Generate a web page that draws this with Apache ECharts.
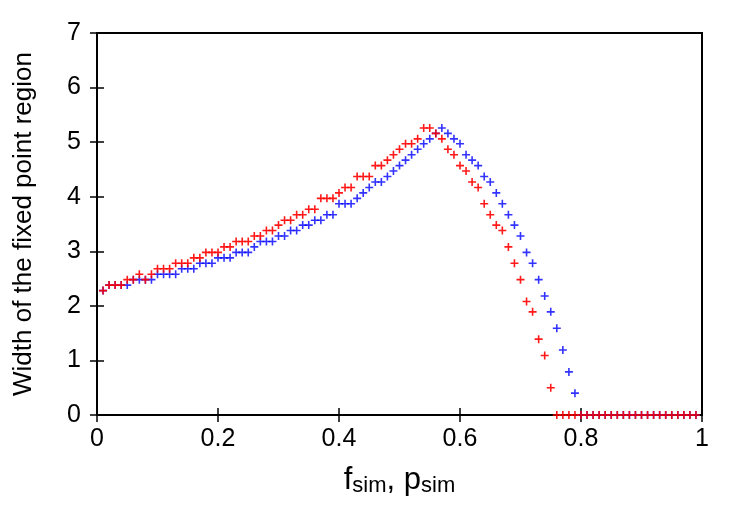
<!DOCTYPE html>
<html>
<head>
<meta charset="utf-8">
<script src="https://cdn.jsdelivr.net/npm/echarts@6/dist/echarts.min.js"></script>
<style>
html,body{margin:0;padding:0;background:#fff;}
#chart{width:750px;height:525px;}
</style>
</head>
<body>
<div id="chart"></div>
<script>
const xValues = [0.01,0.02,0.03,0.04,0.05,0.06,0.07,0.08,0.09,0.10,
0.11,0.12,0.13,0.14,0.15,0.16,0.17,0.18,0.19,0.20,
0.21,0.22,0.23,0.24,0.25,0.26,0.27,0.28,0.29,0.30,
0.31,0.32,0.33,0.34,0.35,0.36,0.37,0.38,0.39,0.40,
0.41,0.42,0.43,0.44,0.45,0.46,0.47,0.48,0.49,0.50,
0.51,0.52,0.53,0.54,0.55,0.56,0.57,0.58,0.59,0.60,
0.61,0.62,0.63,0.64,0.65,0.66,0.67,0.68,0.69,0.70,
0.71,0.72,0.73,0.74,0.75,0.76,0.77,0.78,0.79,0.80,
0.81,0.82,0.83,0.84,0.85,0.86,0.87,0.88,0.89,0.90,
0.91,0.92,0.93,0.94,0.95,0.96,0.97,0.98,0.99];

const redValues = [2.28,2.38,2.38,2.38,2.48,2.48,2.58,2.48,2.58,2.68,
2.68,2.68,2.78,2.78,2.78,2.88,2.88,2.98,2.98,2.98,
3.08,3.08,3.18,3.18,3.18,3.28,3.28,3.38,3.38,3.48,
3.57,3.57,3.67,3.67,3.77,3.77,3.97,3.97,3.97,4.07,
4.17,4.17,4.37,4.37,4.37,4.57,4.57,4.67,4.77,4.87,
4.97,4.97,5.06,5.26,5.26,5.16,5.06,4.87,4.77,4.57,
4.47,4.27,4.17,3.87,3.67,3.48,3.38,3.08,2.78,2.48,
2.08,1.89,1.39,1.09,0.50,0,0,0,0,0,
0,0,0,0,0,0,0,0,0,0,
0,0,0,0,0,0,0,0,0];

const blueValues = [2.28,2.38,2.38,2.38,2.38,2.48,2.48,2.48,2.48,2.58,
2.58,2.58,2.58,2.68,2.68,2.68,2.78,2.78,2.78,2.88,
2.88,2.88,2.98,2.98,2.98,3.08,3.18,3.18,3.18,3.28,
3.28,3.38,3.38,3.48,3.48,3.57,3.57,3.67,3.67,3.87,
3.87,3.87,3.97,4.07,4.17,4.27,4.27,4.37,4.47,4.57,
4.67,4.77,4.87,4.97,5.06,5.16,5.26,5.16,5.06,4.97,
4.77,4.67,4.57,4.37,4.27,4.07,3.87,3.67,3.48,3.28,
2.98,2.78,2.48,2.18,1.89,1.59,1.19,0.79,0.40,0,
0,0,0,0,0,0,0,0,0,0,
0,0,0,0,0,0,0,0,0];

const xTicks = [0, 0.2, 0.4, 0.6, 0.8, 1];
const yTicks = [0, 1, 2, 3, 4, 5, 6, 7];

const plusPath = 'path://M4,0h2v4h4v2h-4v4h-2v-4h-4v-2h4z';
const font = '"Liberation Sans", Arial, Helvetica, sans-serif';

const chart = echarts.init(document.getElementById('chart'), null, {renderer: 'canvas'});

function pairs(ys) { return xValues.map((x, i) => [x, ys[i]]); }

const tickStyle = {show: true, inside: true, length: 7, lineStyle: {color: '#000', width: 1.5}};

chart.setOption({
  animation: false,
  backgroundColor: '#fff',
  grid: {left: 97, right: 48, top: 33, bottom: 110, show: true, borderColor: '#000', borderWidth: 2, backgroundColor: 'transparent'},
  xAxis: [
    {
      type: 'value', min: xTicks[0], max: xTicks[xTicks.length - 1], interval: 0.2, position: 'bottom',
      axisLine: {show: false}, splitLine: {show: false},
      axisTick: tickStyle,
      axisLabel: {fontSize: 25, color: '#000', fontFamily: font, margin: 12},
      name: '{m|f}{s|sim}{m|, p}{s|sim}',
      nameLocation: 'middle', nameGap: 50,
      nameTextStyle: {
        fontFamily: font, color: '#000',
        rich: {
          m: {fontSize: 31, fontFamily: font, color: '#000', verticalAlign: 'top', lineHeight: 32, padding: [0, 0, 9, 0]},
          s: {fontSize: 22, fontFamily: font, color: '#000', verticalAlign: 'bottom', lineHeight: 22}
        }
      }
    },
    {
      type: 'value', min: xTicks[0], max: xTicks[xTicks.length - 1], interval: 0.2, position: 'top',
      axisLine: {show: false}, splitLine: {show: false},
      axisTick: tickStyle, axisLabel: {show: false}
    }
  ],
  yAxis: [
    {
      type: 'value', min: yTicks[0], max: yTicks[yTicks.length - 1], interval: 1, position: 'left',
      axisLine: {show: false}, splitLine: {show: false},
      axisTick: tickStyle,
      axisLabel: {fontSize: 25, color: '#000', fontFamily: font, margin: 16},
      name: 'Width of the fixed point region',
      nameLocation: 'middle', nameGap: 60,
      nameTextStyle: {fontSize: 26, color: '#000', fontFamily: font}
    },
    {
      type: 'value', min: yTicks[0], max: yTicks[yTicks.length - 1], interval: 1, position: 'right',
      axisLine: {show: false}, splitLine: {show: false},
      axisTick: tickStyle, axisLabel: {show: false}
    }
  ],
  series: [
    {
      name: 'p_sim', type: 'scatter', xAxisIndex: 0, yAxisIndex: 0,
      symbol: plusPath, symbolSize: 8,
      itemStyle: {color: '#0000ff'},
      data: pairs(blueValues)
    },
    {
      name: 'f_sim', type: 'scatter', xAxisIndex: 0, yAxisIndex: 0,
      symbol: plusPath, symbolSize: 8,
      itemStyle: {color: '#ff0000', opacity: 0.9},
      data: pairs(redValues)
    }
  ]
});
</script>
</body>
</html>
